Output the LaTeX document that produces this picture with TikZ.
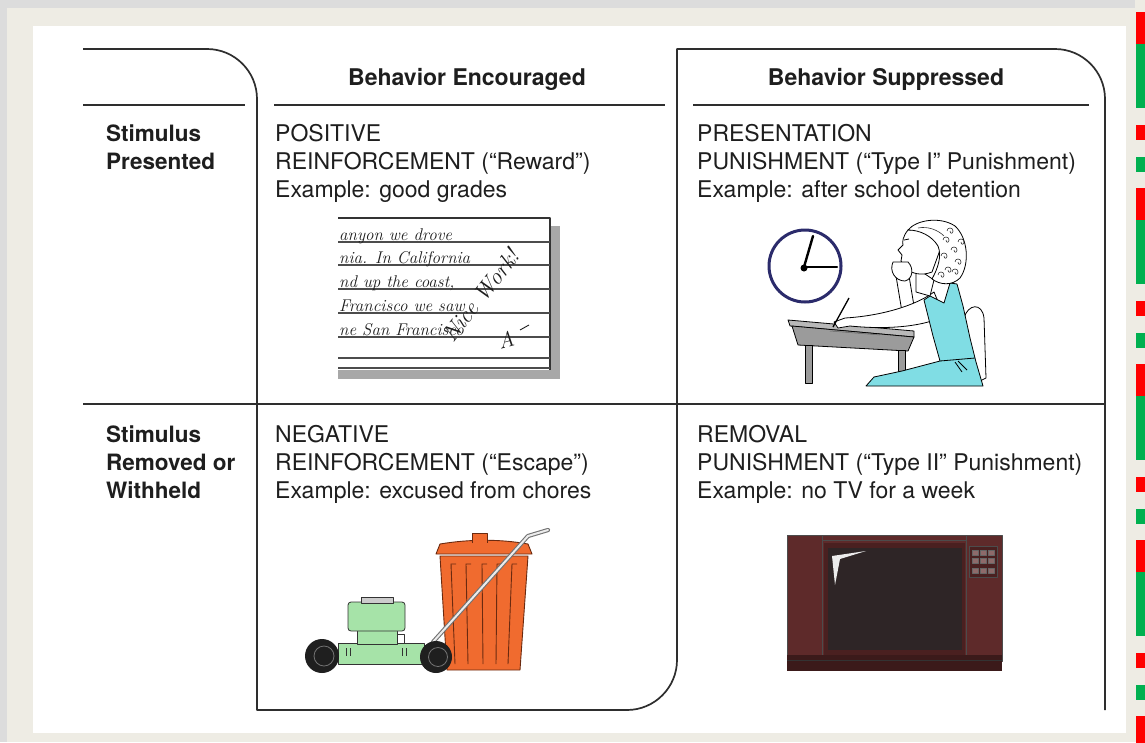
\documentclass[tikz,border=0pt]{standalone}
\usepackage{fontspec}
\setsansfont{TeX Gyre Heros}
\definecolor{bggray}{HTML}{DCDCDC}
\definecolor{beige}{HTML}{EEECE4}
\definecolor{linecol}{HTML}{2E2E2E}
\definecolor{textcol}{HTML}{1E1E1E}
\definecolor{mred}{HTML}{FF0000}
\definecolor{mgreen}{HTML}{00B050}
\definecolor{navy}{HTML}{2B2B6B}
\definecolor{deskgray}{HTML}{9B9B9B}
\definecolor{desktop}{HTML}{B8B8B8}
\definecolor{dress}{HTML}{80DDE4}
\definecolor{mowgreen}{HTML}{A6E3A8}
\definecolor{canorange}{HTML}{F06B2F}
\definecolor{canline}{HTML}{6A2A10}
\definecolor{tvbrown}{HTML}{5E2A2A}
\definecolor{tvbezel}{HTML}{4A2020}
\definecolor{tvscreen}{HTML}{2E2526}
\definecolor{tvbase}{HTML}{3B1A1A}
\definecolor{shadowgray}{HTML}{A8A8A8}
\begin{document}
\begin{tikzpicture}[x=1pt,y=-1pt,line join=round,
  rule/.style={draw=linecol,line width=1.7pt},
  hd/.style={anchor=base,inner sep=0pt,text=textcol,font=\sffamily\bfseries\fontsize{23}{26}\selectfont},
  rowlab/.style={anchor=base west,inner sep=0pt,text=textcol,font=\sffamily\bfseries\fontsize{22.5}{26}\selectfont},
  cell/.style={anchor=base west,inner sep=0pt,text=textcol,font=\sffamily\fontsize{23}{26}\selectfont},
  hw/.style={anchor=base west,inner sep=0pt,text=textcol,font=\rmfamily\itshape\fontsize{17}{19}\selectfont},
  thin/.style={draw=black,line width=0.8pt},
  canl/.style={draw=canline,line width=0.9pt},
  mowl/.style={draw=black!80,line width=0.8pt},
  tvl/.style={draw=black!70,line width=0.8pt}]
\clip (0,0) rectangle (1145,742);
% background
\fill[bggray] (0,0) rectangle (1145,742);
\fill[beige] (7,8) rectangle (1145,742);
\fill[beige] (1135,0) rectangle (1145,8);
\fill[white] (33,26) rectangle (1126,733);
% side marks
\foreach \b in {12,188,364,540,716} {
  \fill[mred] (1136,\b) rectangle (1145,\b+32);
  \fill[mgreen] (1136,\b+32) rectangle (1145,\b+96);
  \fill[mred] (1136,\b+113) rectangle (1145,\b+128);
  \fill[mgreen] (1136,\b+145) rectangle (1145,\b+160);
}
% table rules
\draw[rule] (83,49) -- (207,49) .. controls (234.6,49) and (257,71.4) .. (257,99)
  -- (257,710) -- (627,710) .. controls (654.6,710) and (677,687.4) .. (677,660)
  -- (677,49) -- (1055,49) .. controls (1082.6,49) and (1105,71.4) .. (1105,99)
  -- (1105,710);
\draw[rule] (83,105) -- (245,105);
\draw[rule] (274,105) -- (665,105);
\draw[rule] (693,105) -- (1089,105);
\draw[rule] (83,404) -- (1105,404);
% headers
\node[hd] (h1) at (467,85) {Behavior Encouraged};
\node[hd] (h2) at (886,85) {Behavior Suppressed};
% row labels
\node[rowlab] (r1a) at (106,141) {Stimulus};
\node[rowlab] (r1b) at (106,169) {Presented};
\node[rowlab] (r2a) at (106,442) {Stimulus};
\node[rowlab] (r2b) at (106,470) {Removed or};
\node[rowlab] (r2c) at (106,498) {Withheld};
% cells
\node[cell] (c11a) at (275,141) {POSITIVE};
\node[cell] (c11b) at (275,169) {REINFORCEMENT (“Reward”)};
\node[cell] (c11c) at (275,197) {Example: good grades};
\node[cell] (c12a) at (697,141) {PRESENTATION};
\node[cell] (c12b) at (697,169) {PUNISHMENT (“Type I” Punishment)};
\node[cell] (c12c) at (697,197) {Example: after school detention};
\node[cell] (c21a) at (275,442) {NEGATIVE};
\node[cell] (c21b) at (275,470) {REINFORCEMENT (“Escape”)};
\node[cell] (c21c) at (275,498) {Example: excused from chores};
\node[cell] (c22a) at (697,442) {REMOVAL};
\node[cell] (c22b) at (697,470) {PUNISHMENT (“Type II” Punishment)};
\node[cell] (c22c) at (697,498) {Example: no TV for a week};
% ---------- note paper ----------
\fill[shadowgray] (550,226) rectangle (560,379);
\fill[shadowgray] (338,370) rectangle (560,379);
\fill[white] (338,218) rectangle (550,370);
\draw[line width=1.4pt,black!80] (338,218) -- (550,218) -- (550,370);
\foreach \yy in {242,265,289,313,337,358,368}
  \draw[line width=1.1pt,black!70] (338,\yy) -- (550,\yy);
\node[hw] (w1) at (339,240) {anyon we drove};
\node[hw] (w2) at (339,263) {nia. In California};
\node[hw] (w3) at (339,287) {nd up the coast,};
\node[hw] (w4) at (339,311) {Francisco we saw};
\node[hw] (w5) at (339,335) {ne San Francisco};
\node[hw,font=\rmfamily\itshape\fontsize{23}{23}\selectfont,rotate=52] (nw) at (453,344) {Nice Work!};
\node[hw,font=\rmfamily\itshape\fontsize{22}{22}\selectfont,rotate=15] (gr) at (500,350) {A};
\draw[line width=0.9pt,textcol] (520,330) -- (529,325);
% ---------- clock ----------
\draw[navy,line width=3pt] (805,266) circle (36);
\draw[black,line width=2.4pt,line cap=round] (804,267) -- (813,236);
\draw[black,line width=2.2pt,line cap=round] (804,267) -- (837,267);
\fill[black] (804,268) circle (3.5);
% ---------- desk and girl ----------
\draw[thin,fill=white] (964,318) .. controls (968,304) and (982,302) .. (984,318) -- (986,378) -- (974,384) -- (968,336) -- cycle;
\draw[thin,fill=desktop] (788,320) -- (914,331) -- (914,337) -- (790,326) -- cycle;
\draw[thin,fill=deskgray] (792,326) -- (914,337) -- (908,351) -- (798,345) -- cycle;
\draw[black!60,line width=0.5pt] (830,331) -- (880,335);
\draw[thin,fill=deskgray] (805,345) rectangle (812,383);
\draw[thin,fill=deskgray] (898,350) rectangle (905,383);
% chin arm
\draw[thin,fill=white] (896,276) -- (902,312) -- (915,312) -- (909,276) -- cycle;
% writing arm
\draw[thin,fill=white] (934,292) .. controls (915,306) and (880,316) .. (845,318)
  -- (834,322) -- (838,328) -- (850,326) .. controls (890,330) and (925,326) .. (944,316) -- cycle;
\draw[line width=1.3pt,black] (849,298) -- (833,327);
% dress
\draw[thin,fill=dress] (924,300) -- (930,296) -- (944,303) -- (950,283) -- (957,284)
  -- (963,306) -- (970,338) -- (976,362) -- (983,386) -- (866,386) -- (874,377)
  -- (902,371) -- (940,361) -- (933,336) -- cycle;
\draw[thin] (940,361) -- (975,358);
\draw[thin] (955,362) -- (962,372) (958,361) -- (967,370);
% neck and face
\draw[thin,fill=white] (916,268) -- (916,292) -- (930,296) -- (934,280) -- cycle;
\draw[thin,fill=white] (908,230) .. controls (903,236) and (902,242) .. (903,245)
  -- (898,250) -- (902,255) -- (901,261) -- (905,268) .. controls (912,274) and (922,276) .. (932,272)
  -- (940,250) .. controls (935,236) and (922,228) .. (908,230) -- cycle;
\draw[thin] (904,240) -- (909,239);
% hair
\draw[thin,fill=white] (908,230) .. controls (916,220) and (940,216) .. (955,226)
  .. controls (968,238) and (970,264) .. (960,278) .. controls (952,286) and (940,285) .. (932,279)
  .. controls (938,268) and (942,256) .. (938,246) .. controls (932,236) and (920,230) .. (908,230) -- cycle;
\foreach \cx/\cy in {946/240,954/250,944/256,958/262,948/270,941/275,955/272,950/231,961/242}
  \draw[black!80,line width=0.6pt] (\cx-3,\cy) .. controls (\cx-3,\cy-4) and (\cx+3,\cy-4) .. (\cx+3,\cy) .. controls (\cx+3,\cy+3) and (\cx,\cy+3) .. (\cx,\cy);
\draw[black!80,line width=0.6pt] (918,228) .. controls (928,226) and (938,230) .. (944,236);
% hand at chin
\draw[thin,fill=white] (893,262) .. controls (889,271) and (895,281) .. (905,281)
  .. controls (913,279) and (914,268) .. (908,262) -- cycle;
% ---------- trash can ----------
\draw[canl,fill=canorange] (447,670) -- (440,556) -- (528,556) -- (520,670) -- cycle;
\draw[canl,fill=canorange] (436,554) -- (440,544) .. controls (470,539) and (500,539) .. (528,544) -- (532,554) -- cycle;
\draw[canl,fill=canorange] (472,543) -- (472,533) -- (487,533) -- (487,543);
\foreach \xt/\xb in {451/455,466/468,482/483,497/496,512/508}
  \draw[canl] (\xt+5,564) -- (\xt,564) -- (\xb,664);
% ---------- mower ----------
\draw[line width=4.2pt,black!55,line cap=round] (433,642) -- (528,536) -- (548,530);
\draw[line width=2pt,white!85!gray,line cap=round] (433,642) -- (528,536) -- (548,530);
\draw[mowl,fill=mowgreen] (338,643) rectangle (424,664);
\draw[mowl] (346,648) -- (346,656) (350,648) -- (350,656) (402,648) -- (402,656) (406,648) -- (406,656);
\draw[mowl,fill=mowgreen] (357,630) rectangle (397,644);
\draw[mowl,fill=white] (397,634) rectangle (404,643);
\draw[mowl,fill=mowgreen,rounded corners=3pt] (348,602) rectangle (405,631);
\draw[mowl,fill=black!20] (361,597) rectangle (393,603);
\fill[black!88] (322,656) circle (17);
\draw[black!55,line width=0.8pt] (324,656) circle (10);
\fill[black!88] (436,657) circle (16);
\draw[black!55,line width=0.8pt] (438,657) circle (9.5);
% ---------- TV ----------
\fill[tvbrown] (787,535) rectangle (1002,661);
\draw[tvl] (787,535) rectangle (1002,661);
\draw[tvl] (822,535) -- (822,657) (966,535) -- (966,657) (822,540) -- (966,540);
\fill[tvbezel] (824,543) rectangle (965,655);
\fill[tvscreen] (828,548) rectangle (962,650);
\fill[white!85!gray] (832,556) -- (866,551) -- (840,559) -- (835,585) -- cycle;
\draw[tvl,fill=tvbezel] (969,546) rectangle (997,577);
\foreach \bx in {972,980,988}
  \foreach \by in {550,558,568}
    \draw[black!60,fill=tvbrown!70!white,line width=0.4pt] (\bx,\by) rectangle (\bx+6,\by+5);
\fill[tvbase] (787,655) rectangle (1002,671);
\draw[black!80,line width=0.8pt] (787,660) -- (1002,660);
\end{tikzpicture}
\end{document}
